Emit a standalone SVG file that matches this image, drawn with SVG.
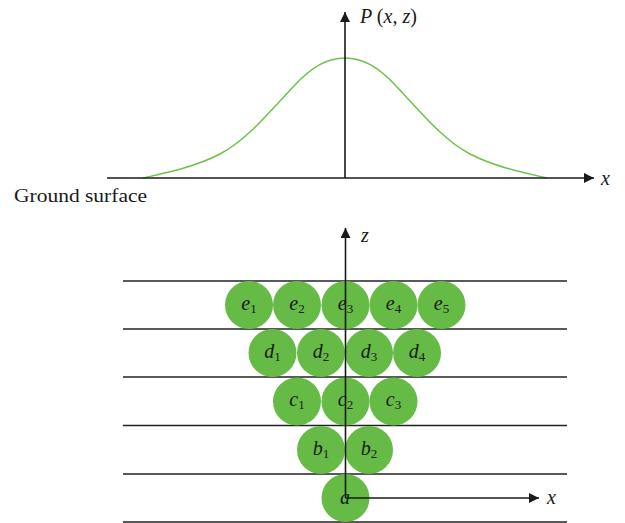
<svg xmlns="http://www.w3.org/2000/svg" width="625" height="523" viewBox="0 0 625 523">
<style>
.ax{stroke:#1a1a1a;stroke-width:1.6;fill:none}
.ly{stroke:#222;stroke-width:1.5}
.ball{fill:#66bb46}
.lb{font-family:"Liberation Serif",serif;font-style:italic;font-size:20px;fill:#1a1a1a}
.sub{font-style:normal;font-size:13px}
.up{font-style:normal}
.t{font-family:"Liberation Serif",serif;font-size:19px;fill:#1a1a1a}
</style>
<defs>
<marker id="ah" markerWidth="10" markerHeight="10" refX="10" refY="5" orient="auto" markerUnits="userSpaceOnUse">
<path d="M0,0 L10,5 L0,10 Z" fill="#1a1a1a"/>
</marker>
</defs>
<g id="layers">
<line class="ly" x1="123" y1="281" x2="567" y2="281"/>
<line class="ly" x1="123" y1="329" x2="567" y2="329"/>
<line class="ly" x1="123" y1="377" x2="567" y2="377"/>
<line class="ly" x1="123" y1="425.5" x2="567" y2="425.5"/>
<line class="ly" x1="123" y1="474" x2="567" y2="474"/>
<line class="ly" x1="123" y1="522" x2="567" y2="522"/>
</g>
<g id="curve">
<path d="M143,178 C165,173 195,167 220,154 C245,141 265,117 293,87 C312,66 328,58 345,58 C362,58 378,66 397,87 C425,117 445,141 470,154 C495,167 525,173 547,178" fill="none" stroke="#6cc24a" stroke-width="1.5"/>
</g>
<g id="e1"><circle class="ball" cx="249" cy="305" r="24"/><text class="lb" x="249" y="310" text-anchor="middle">e<tspan class="sub" dy="3">1</tspan></text></g>
<g id="e2"><circle class="ball" cx="297" cy="305" r="24"/><text class="lb" x="297" y="310" text-anchor="middle">e<tspan class="sub" dy="3">2</tspan></text></g>
<g id="e3"><circle class="ball" cx="345.5" cy="305" r="24"/><text class="lb" x="345.5" y="310" text-anchor="middle">e<tspan class="sub" dy="3">3</tspan></text></g>
<g id="e4"><circle class="ball" cx="393.5" cy="305" r="24"/><text class="lb" x="393.5" y="310" text-anchor="middle">e<tspan class="sub" dy="3">4</tspan></text></g>
<g id="e5"><circle class="ball" cx="441.5" cy="305" r="24"/><text class="lb" x="441.5" y="310" text-anchor="middle">e<tspan class="sub" dy="3">5</tspan></text></g>
<g id="d1"><circle class="ball" cx="272.5" cy="353" r="24"/><text class="lb" x="272.5" y="358" text-anchor="middle">d<tspan class="sub" dy="3">1</tspan></text></g>
<g id="d2"><circle class="ball" cx="321" cy="353" r="24"/><text class="lb" x="321" y="358" text-anchor="middle">d<tspan class="sub" dy="3">2</tspan></text></g>
<g id="d3"><circle class="ball" cx="369" cy="353" r="24"/><text class="lb" x="369" y="358" text-anchor="middle">d<tspan class="sub" dy="3">3</tspan></text></g>
<g id="d4"><circle class="ball" cx="417" cy="353" r="24"/><text class="lb" x="417" y="358" text-anchor="middle">d<tspan class="sub" dy="3">4</tspan></text></g>
<g id="c1"><circle class="ball" cx="297" cy="401.5" r="24"/><text class="lb" x="297" y="406" text-anchor="middle">c<tspan class="sub" dy="3">1</tspan></text></g>
<g id="c2"><circle class="ball" cx="345.5" cy="401.5" r="24"/><text class="lb" x="345.5" y="406" text-anchor="middle">c<tspan class="sub" dy="3">2</tspan></text></g>
<g id="c3"><circle class="ball" cx="393.5" cy="401.5" r="24"/><text class="lb" x="393.5" y="406" text-anchor="middle">c<tspan class="sub" dy="3">3</tspan></text></g>
<g id="b1"><circle class="ball" cx="321" cy="450" r="24"/><text class="lb" x="321" y="455" text-anchor="middle">b<tspan class="sub" dy="3">1</tspan></text></g>
<g id="b2"><circle class="ball" cx="369" cy="450" r="24"/><text class="lb" x="369" y="455" text-anchor="middle">b<tspan class="sub" dy="3">2</tspan></text></g>
<g id="a"><circle class="ball" cx="345.5" cy="498" r="24"/><text class="lb" x="345" y="504" text-anchor="middle">a</text></g>
<g id="connectors">
<line class="ax" x1="107" y1="178" x2="594" y2="178" marker-end="url(#ah)"/>
<line class="ax" x1="345" y1="178" x2="345" y2="12" marker-end="url(#ah)"/>
<line class="ax" x1="345.5" y1="498" x2="345.5" y2="228" marker-end="url(#ah)"/>
<line class="ax" x1="345.5" y1="498" x2="539" y2="498" marker-end="url(#ah)"/>
</g>
<g id="labels">
<text class="lb" x="360" y="23">P <tspan class="up">(</tspan>x, z<tspan class="up">)</tspan></text>
<text class="lb" x="601" y="185">x</text>
<text class="lb" x="361" y="242">z</text>
<text class="lb" x="547" y="504">x</text>
<text class="t" x="14" y="202" textLength="133" lengthAdjust="spacingAndGlyphs">Ground surface</text>
</g>
</svg>
